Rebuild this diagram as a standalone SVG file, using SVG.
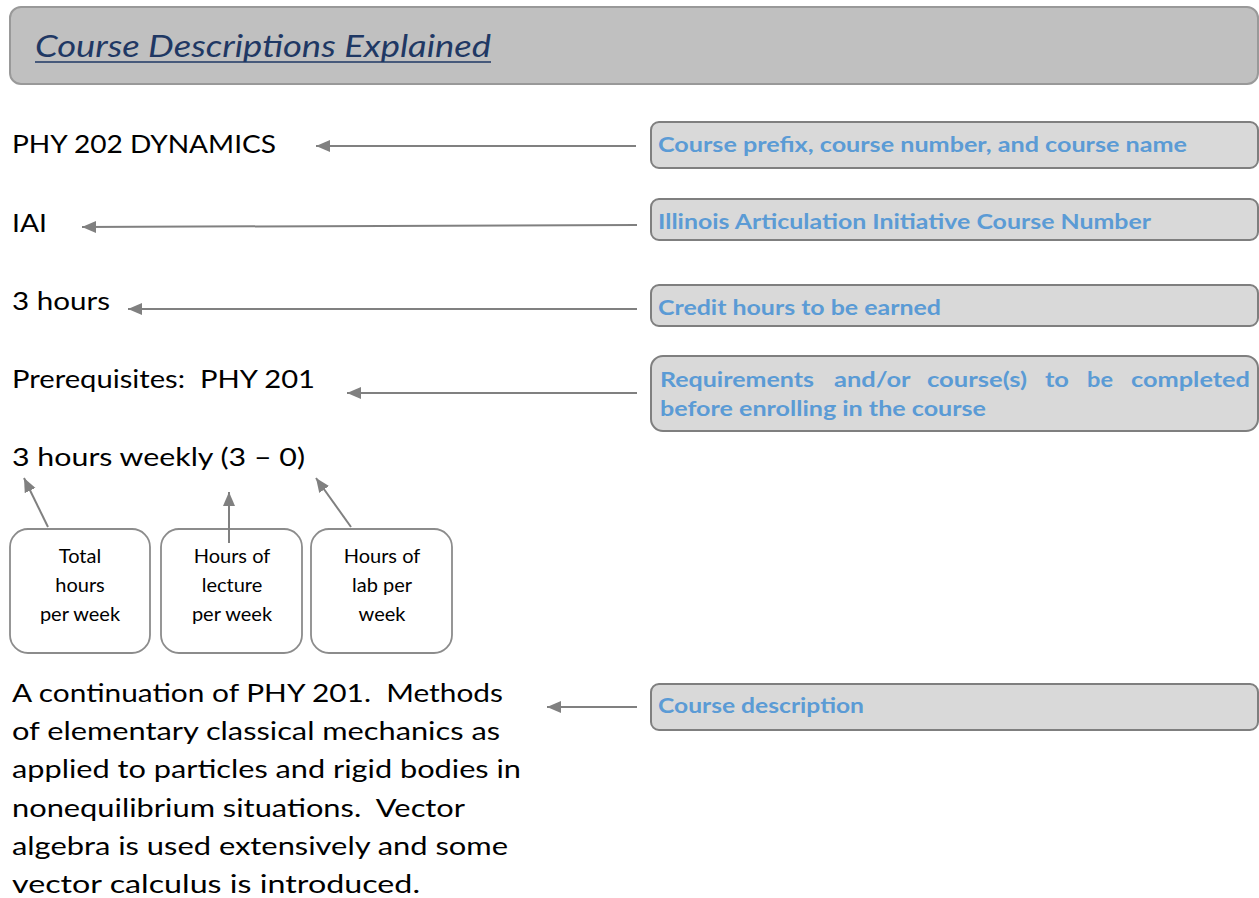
<svg xmlns="http://www.w3.org/2000/svg" width="1259" height="898" viewBox="0 0 1259 898">
<style>
.main{font-family:Lato,"Open Sans","Liberation Sans",sans-serif;font-size:25px;fill:#000}
.lbl{font-family:Lato,"Open Sans","Liberation Sans",sans-serif;font-size:20.5px;font-weight:bold;fill:#5b9bd5}
.sm{font-family:Lato,"Open Sans","Liberation Sans",sans-serif;font-size:20px;fill:#000;text-anchor:middle}
.box{fill:#d9d9d9;stroke:#7f7f7f;stroke-width:2}
.sbox{fill:#fff;stroke:#8c8c8c;stroke-width:1.8}
.arr{stroke:#808080;stroke-width:2;fill:none;marker-end:url(#ah)}
</style>
<defs>
<marker id="ah" markerUnits="userSpaceOnUse" markerWidth="16" markerHeight="14" refX="14" refY="6" orient="auto">
<path d="M0,0 L14,6 L0,12 z" fill="#808080"/>
</marker>
</defs>
<rect width="1259" height="898" fill="#fff"/>
<g id="header">
<rect x="10" y="7" width="1248" height="77" rx="11" fill="#c0c0c0" stroke="#999" stroke-width="2"/>
<text x="35" y="57" font-family="Lato,'Open Sans',sans-serif" font-size="30" font-style="italic" fill="#1f3864" textLength="456" lengthAdjust="spacingAndGlyphs">Course Descriptions Explained</text>
<line x1="35" y1="62" x2="491" y2="62" stroke="#1f3864" stroke-width="1.5"/>
</g>
<g id="course-name"><text class="main" x="12" y="153" textLength="264" lengthAdjust="spacingAndGlyphs">PHY 202 DYNAMICS</text></g>
<g id="iai"><text class="main" x="12" y="232" textLength="35" lengthAdjust="spacingAndGlyphs">IAI</text></g>
<g id="hours"><text class="main" x="12" y="310" textLength="98" lengthAdjust="spacingAndGlyphs">3 hours</text></g>
<g id="prereq"><text class="main" x="12" y="388" textLength="303" lengthAdjust="spacingAndGlyphs" xml:space="preserve">Prerequisites:  PHY 201</text></g>
<g id="weekly"><text class="main" x="12" y="466" textLength="293" lengthAdjust="spacingAndGlyphs">3 hours weekly (3 – 0)</text></g>
<g id="description">
<text class="main" x="12" y="702" textLength="491" lengthAdjust="spacingAndGlyphs" xml:space="preserve">A continuation of PHY 201.  Methods</text>
<text class="main" x="12" y="740" textLength="488" lengthAdjust="spacingAndGlyphs">of elementary classical mechanics as</text>
<text class="main" x="12" y="778" textLength="509" lengthAdjust="spacingAndGlyphs">applied to particles and rigid bodies in</text>
<text class="main" x="12" y="817" textLength="453" lengthAdjust="spacingAndGlyphs" xml:space="preserve">nonequilibrium situations.  Vector</text>
<text class="main" x="12" y="855" textLength="496" lengthAdjust="spacingAndGlyphs">algebra is used extensively and some</text>
<text class="main" x="12" y="893" textLength="408" lengthAdjust="spacingAndGlyphs">vector calculus is introduced.</text>
</g>
<g id="lbl-name"><rect class="box" x="651" y="122" width="607" height="46" rx="8"/><text class="lbl" x="658" y="152" textLength="529" lengthAdjust="spacingAndGlyphs">Course prefix, course number, and course name</text></g>
<g id="lbl-iai"><rect class="box" x="651" y="199" width="607" height="41" rx="8"/><text class="lbl" x="658" y="229" textLength="493" lengthAdjust="spacingAndGlyphs">Illinois Articulation Initiative Course Number</text></g>
<g id="lbl-hours"><rect class="box" x="651" y="285" width="607" height="41" rx="8"/><text class="lbl" x="658" y="315" textLength="283" lengthAdjust="spacingAndGlyphs">Credit hours to be earned</text></g>
<g id="lbl-prereq"><rect class="box" x="651" y="356" width="607" height="75" rx="12"/>
<text class="lbl" y="387"><tspan x="660" textLength="154" lengthAdjust="spacingAndGlyphs">Requirements</tspan> <tspan x="834" textLength="76" lengthAdjust="spacingAndGlyphs">and/or</tspan> <tspan x="927" textLength="100" lengthAdjust="spacingAndGlyphs">course(s)</tspan> <tspan x="1045" textLength="24" lengthAdjust="spacingAndGlyphs">to</tspan> <tspan x="1087" textLength="26" lengthAdjust="spacingAndGlyphs">be</tspan> <tspan x="1131" textLength="119" lengthAdjust="spacingAndGlyphs">completed</tspan></text>
<text class="lbl" x="660" y="416" textLength="326" lengthAdjust="spacingAndGlyphs">before enrolling in the course</text></g>
<g id="lbl-desc"><rect class="box" x="651" y="684" width="607" height="46" rx="8"/><text class="lbl" x="658" y="713" textLength="206" lengthAdjust="spacingAndGlyphs">Course description</text></g>
<g id="box-total"><rect class="sbox" x="10" y="529" width="140" height="124" rx="18"/>
<text class="sm" x="80" y="563">Total</text><text class="sm" x="80" y="592">hours</text><text class="sm" x="80" y="621">per week</text></g>
<g id="box-lecture"><rect class="sbox" x="161" y="529" width="141" height="124" rx="18"/>
<text class="sm" x="232" y="563">Hours of</text><text class="sm" x="232" y="592">lecture</text><text class="sm" x="232" y="621">per week</text></g>
<g id="box-lab"><rect class="sbox" x="311" y="529" width="141" height="124" rx="18"/>
<text class="sm" x="382" y="563">Hours of</text><text class="sm" x="382" y="592">lab per</text><text class="sm" x="382" y="621">week</text></g>
<g id="connectors">
<line class="arr" x1="636" y1="146" x2="316" y2="146"/>
<line class="arr" x1="637" y1="225" x2="82" y2="227"/>
<line class="arr" x1="637" y1="309" x2="128" y2="309"/>
<line class="arr" x1="637" y1="393" x2="347" y2="393"/>
<line class="arr" x1="637" y1="707" x2="547" y2="707"/>
<line class="arr" x1="48" y1="527" x2="24" y2="478"/>
<line class="arr" x1="229" y1="543" x2="229" y2="492"/>
<line class="arr" x1="351" y1="527" x2="316" y2="478"/>
</g>
</svg>
